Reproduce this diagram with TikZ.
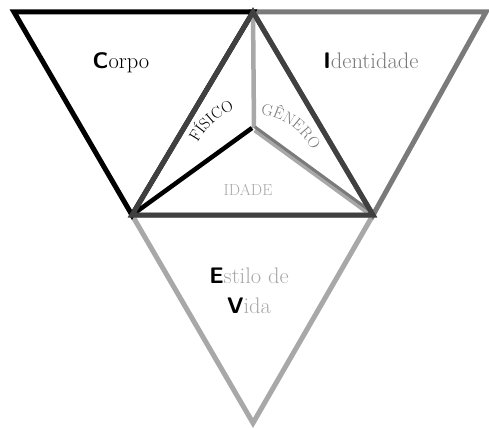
\documentclass[tikz,border=0pt]{standalone}
\usetikzlibrary{decorations.text}
\definecolor{darkline}{HTML}{404040}
\definecolor{midgray}{HTML}{7A7A7A}
\definecolor{lightgray}{HTML}{A8A8A8}
\newcommand{\initial}[1]{{\sffamily\bfseries\color{black}#1}}
\begin{document}
\begin{tikzpicture}[x=1pt, y=1pt,
    edge/.style={line width=5pt, line join=miter},
    title/.style={font=\fontsize{22.5}{30}\selectfont, align=center, inner sep=0pt},
    small/.style={font=\fontsize{16}{16}\selectfont, inner sep=0pt}
]
\useasboundingbox (0,0) rectangle (489,-428);

% Vertices
\coordinate (top) at (253,-12);
\coordinate (left) at (132,-215);
\coordinate (right) at (373,-215);
\coordinate (ctr) at (253,-128);
\coordinate (cl) at (14,-12);
\coordinate (cr) at (486,-12);
\coordinate (bot) at (253,-423);

% Outer triangles
\draw[edge, lightgray] (left) -- (right) -- (bot) -- cycle;
\draw[edge, midgray] (top) -- (cr) -- (right) -- cycle;
\draw[edge, black] (cl) -- (top) -- (left) -- cycle;

% Inner spokes
\draw[line width=4.5pt, lightgray] (top) -- ([xshift=1pt]ctr);
\draw[line width=5pt, lightgray] ([xshift=2pt,yshift=-2pt]ctr) -- ([yshift=-1pt]right);
\draw[line width=3pt, midgray] ([xshift=2pt,yshift=1pt]ctr) -- ([yshift=2pt]right);
\draw[line width=4.5pt, black] ([xshift=-1pt]ctr) -- (left);

% Central triangle
\draw[edge, darkline] (top) -- (left) -- (right) -- cycle;

% Labels
\node[title, anchor=base] (corpo) at (121,-68) {\initial{C}orpo};
\node[title, anchor=base, text=midgray] (ident) at (371,-68) {\initial{I}dentidade};
\node[title, anchor=base, text=lightgray] (estilo) at (249,-313) {\initial{E}stilo de\\\initial{V}ida};
\node[small, anchor=base, text=lightgray] (idade) at (248,-195) {IDADE};

% Curved labels
\path[decorate, decoration={text along path, text align=center,
    text={|\fontsize{16}{16}\selectfont\color{black}|FÍSICO}}]
    (260,-175) ++(163:70) arc (163:101:70);
\path[decorate, decoration={text along path, text align=center,
    text={|\fontsize{16}{16}\selectfont\color{midgray}|GÊNERO}}]
    (253,-180) ++(90:66) arc (90:20:66);
\end{tikzpicture}
\end{document}
